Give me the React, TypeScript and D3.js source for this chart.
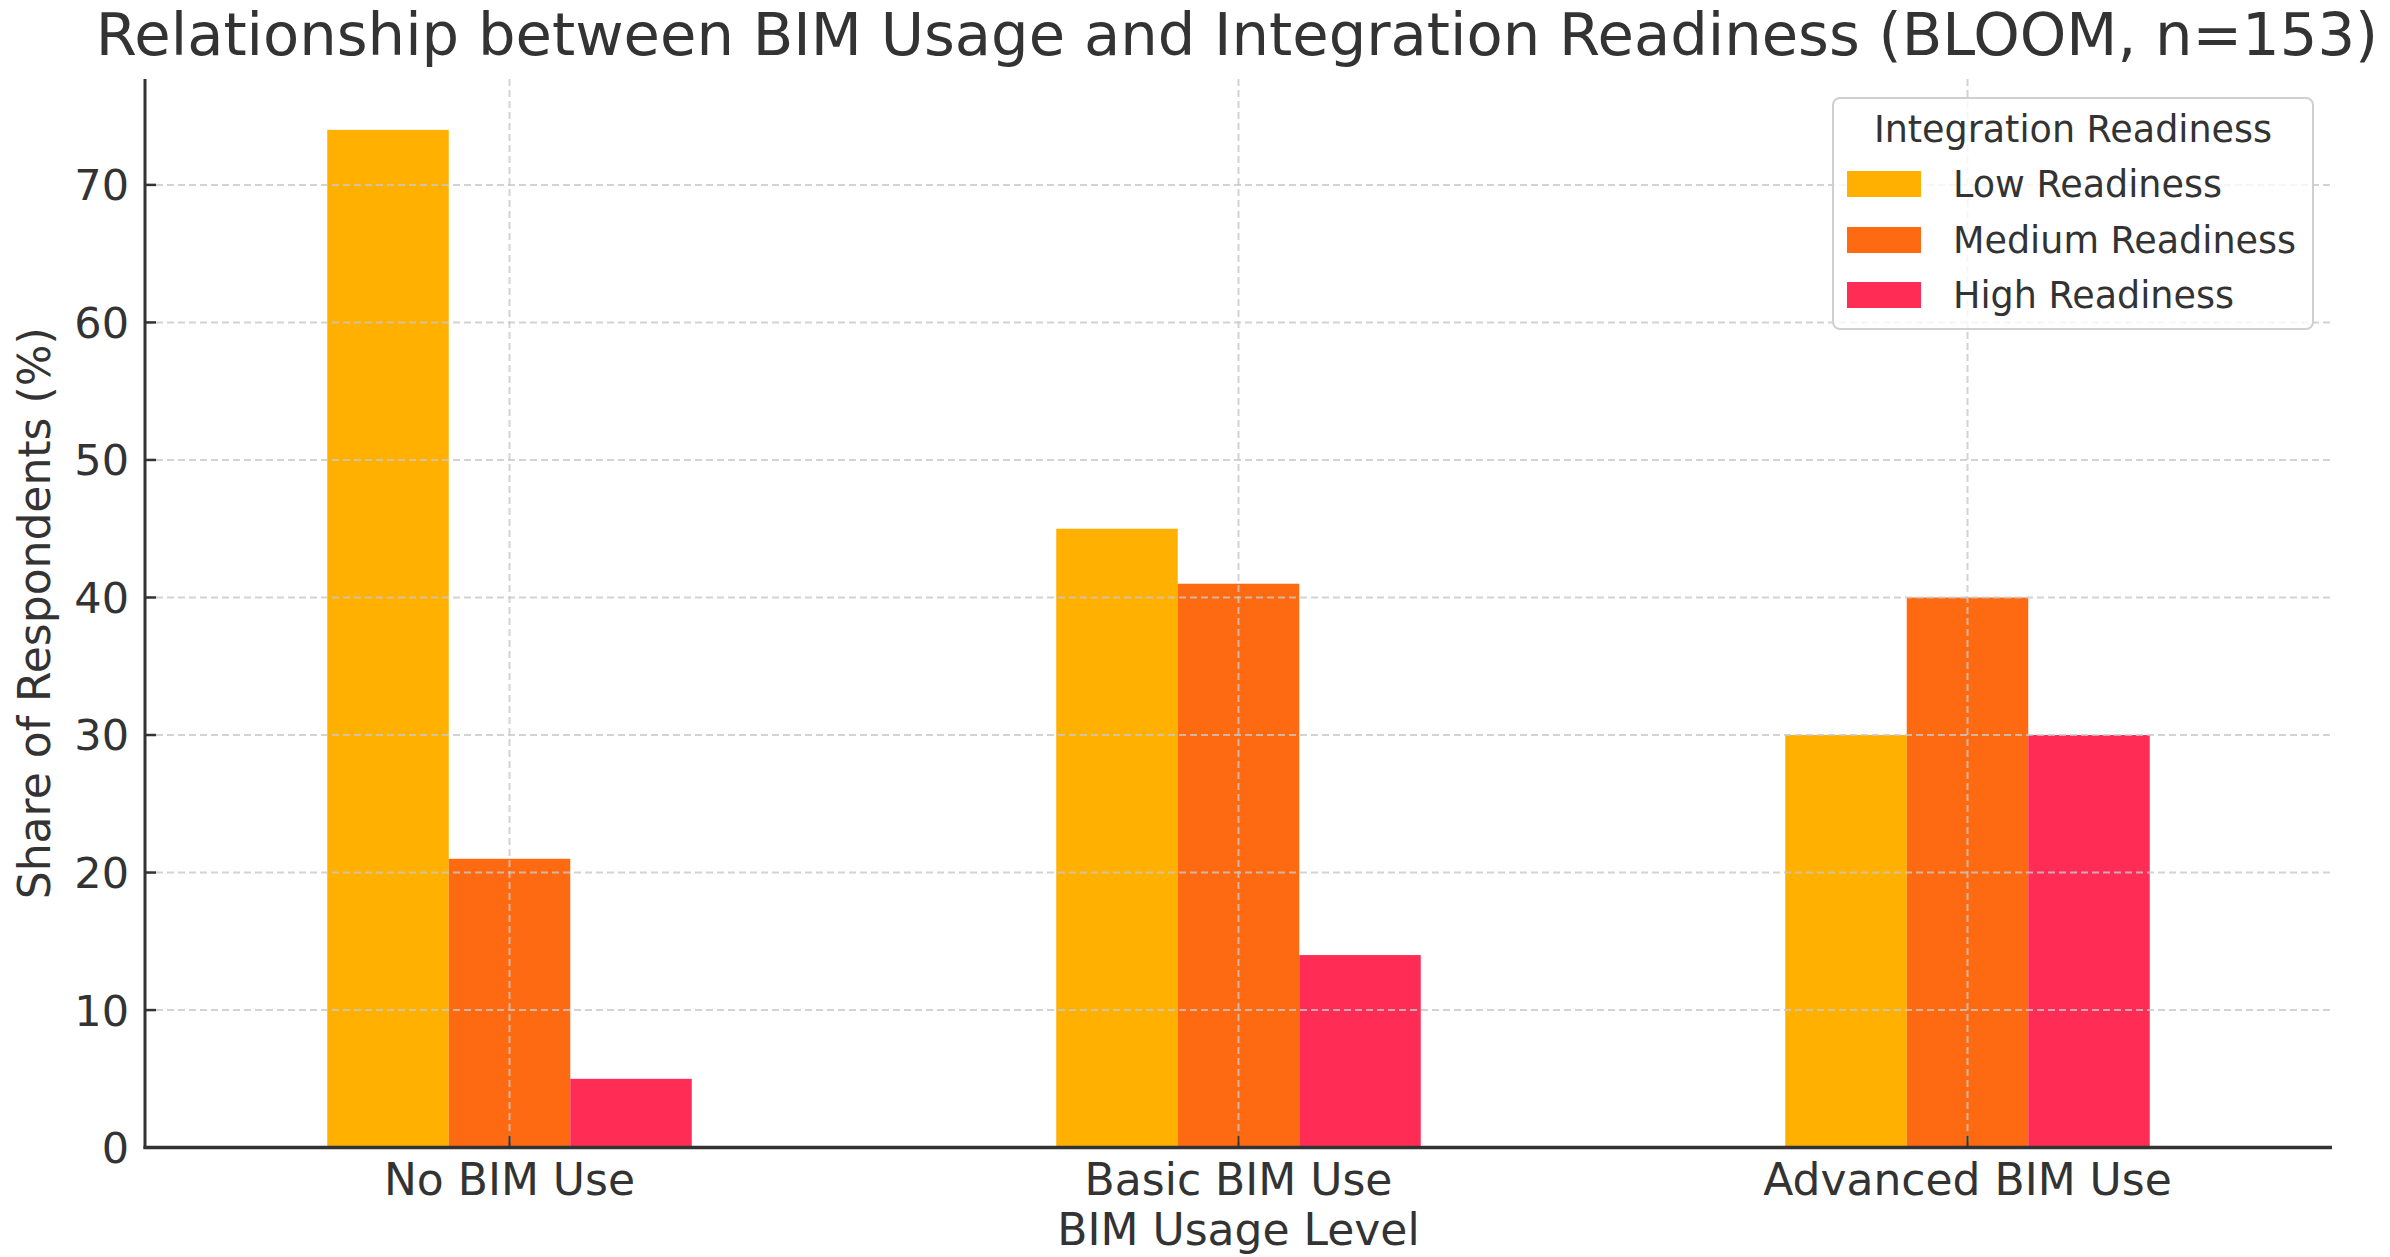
import React from "react";
import * as d3 from "d3";

const categories = ["No BIM Use", "Basic BIM Use", "Advanced BIM Use"];
const seriesNames = ["Low Readiness", "Medium Readiness", "High Readiness"];
const lowValues = [74, 45, 30];
const mediumValues = [21, 41, 40];
const highValues = [5, 14, 30];
const yTicks = [0, 10, 20, 30, 40, 50, 60, 70];
const colors = ["#FFB000", "#FE6A12", "#FF2D55"];

const title = "Relationship between BIM Usage and Integration Readiness (BLOOM, n=153)";
const xLabel = "BIM Usage Level";
const yLabel = "Share of Respondents (%)";
const legendTitle = "Integration Readiness";

const W = 2390;
const H = 1257;
const M = { left: 145, right: 2332, top: 79, bottom: 1147.6 };
const FONT = "'DejaVu Sans', sans-serif";
const TXT = "#333333";

export default function App() {
  const values = [lowValues, mediumValues, highValues];
  const yMax = d3.max(values.flat())! * 1.05;
  const x = d3.scaleBand<string>().domain(categories).range([M.left, M.right]).padding(0);
  const bw = x.bandwidth();
  const xs = d3.scaleBand<string>().domain(seriesNames).range([bw * 0.25, bw * 0.75]).padding(0);
  const y = d3.scaleLinear().domain([0, yMax]).range([M.bottom, M.top]);
  const cx = (c: string) => (x(c) as number) + bw / 2;

  const legX = 1833, legY = 98, legW = 480, legH = 231;
  const rowY = [171, 227, 282];

  return (
    <svg
      width={W}
      height={H}
      style={{ position: "absolute", left: 0, top: 0, background: "#fff" }}
      fontFamily={FONT}
    >
      <rect x={0} y={0} width={W} height={H} fill="#fff" />
      {/* bars */}
      {categories.map((c, ci) =>
        seriesNames.map((s, si) => {
          const v = values[si][ci];
          return (
            <rect
              key={c + s}
              x={(x(c) as number) + (xs(s) as number)}
              y={y(v)}
              width={xs.bandwidth()}
              height={y(0) - y(v)}
              fill={colors[si]}
            />
          );
        })
      )}
      {/* grid */}
      {yTicks.filter((t) => t > 0).map((t) => (
        <line
          key={"gy" + t}
          x1={M.left}
          x2={M.right}
          y1={y(t)}
          y2={y(t)}
          stroke="#c8c8c8"
          strokeOpacity={0.8}
          strokeWidth={2}
          strokeDasharray="7,4"
        />
      ))}
      {categories.map((c) => (
        <line
          key={"gx" + c}
          x1={cx(c)}
          x2={cx(c)}
          y1={M.top}
          y2={M.bottom}
          stroke="#c8c8c8"
          strokeOpacity={0.8}
          strokeWidth={2}
          strokeDasharray="7,4"
        />
      ))}
      {/* spines */}
      <line x1={M.left} x2={M.left} y1={M.top} y2={M.bottom + 1.5} stroke="#333" strokeWidth={3} />
      <line x1={M.left - 1.5} x2={M.right} y1={M.bottom} y2={M.bottom} stroke="#333" strokeWidth={3.5} />
      {/* y ticks */}
      {yTicks.map((t) => (
        <g key={"yt" + t}>
          <line x1={M.left} x2={M.left + 11} y1={y(t)} y2={y(t)} stroke="#333" strokeWidth={2.5} />
          <text
            x={M.left - 16}
            y={y(t)}
            dy="0.36em"
            textAnchor="end"
            fontSize={43}
            fill={TXT}
          >
            {t}
          </text>
        </g>
      ))}
      {/* x ticks */}
      {categories.map((c) => (
        <g key={"xt" + c}>
          <line x1={cx(c)} x2={cx(c)} y1={M.bottom} y2={M.bottom - 12} stroke="#333" strokeWidth={2} />
          <text x={cx(c)} y={1195} textAnchor="middle" fontSize={44} fill={TXT}>
            {c}
          </text>
        </g>
      ))}
      {/* axis labels */}
      <text x={(M.left + M.right) / 2} y={1245} textAnchor="middle" fontSize={44} fill={TXT}>
        {xLabel}
      </text>
      <text
        transform={`translate(50, ${(M.top + M.bottom) / 2}) rotate(-90)`}
        textAnchor="middle"
        fontSize={44}
        fill={TXT}
      >
        {yLabel}
      </text>
      {/* title */}
      <text x={1237} y={55} textAnchor="middle" fontSize={59.2} fill={TXT}>
        {title}
      </text>
      {/* legend */}
      <rect
        x={legX}
        y={legY}
        width={legW}
        height={legH}
        rx={7}
        fill="#fff"
        fillOpacity={0.8}
        stroke="#d0d0d0"
        strokeWidth={2}
      />
      <text x={legX + legW / 2} y={142} textAnchor="middle" fontSize={36.5} fill={TXT}>
        {legendTitle}
      </text>
      {seriesNames.map((s, i) => (
        <g key={"lg" + s}>
          <rect x={1847} y={rowY[i]} width={74} height={26} fill={colors[i]} />
          <text x={1953} y={rowY[i] + 26} fontSize={36.5} fill={TXT}>
            {s}
          </text>
        </g>
      ))}
    </svg>
  );
}
